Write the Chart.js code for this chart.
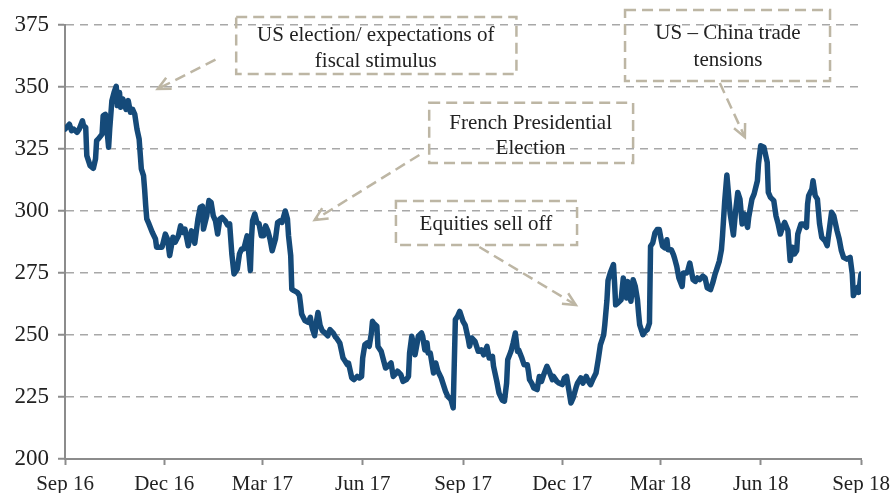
<!DOCTYPE html>
<html>
<head>
<meta charset="utf-8">
<script src="https://cdn.jsdelivr.net/npm/chart.js@4/dist/chart.umd.min.js"></script>
<style>
	html, body { margin: 0; padding: 0; background: #fff; }
	#wrap { width: 893px; height: 493px; }
</style>
</head>
<body>
<div id="wrap"><canvas id="chart" width="893" height="493"></canvas></div>
<script>
// Days since 1 Sep 2016 and index level
var days = [
	0, 4, 6, 8, 11, 13, 16, 17, 19, 20, 23, 26, 28, 29, 31, 34, 35, 37, 39, 40,
	41, 43, 45, 47, 48, 50, 51, 53, 56, 58, 60, 62, 64, 66, 68, 70, 72, 73, 74, 75,
	77, 80, 83, 84, 89, 92, 94, 96, 99, 101, 104, 106, 108, 110, 113, 116, 117, 119, 122, 124,
	126, 127, 130, 132, 134, 136, 138, 140, 142, 144, 147, 149, 151, 153, 155, 158, 160, 162, 164, 167,
	168, 170, 171, 172, 174, 176, 178, 180, 182, 184, 186, 188, 190, 193, 195, 197, 199, 202, 204, 205,
	207, 208, 210, 213, 215, 216, 217, 220, 223, 225, 226, 227, 229, 231, 232, 234, 236, 238, 241, 243,
	246, 248, 249, 252, 255, 257, 259, 260, 263, 265, 268, 270, 272, 273, 275, 277, 279, 281, 282, 283,
	286, 287, 290, 292, 294, 296, 299, 301, 304, 305, 308, 310, 313, 315, 316, 318, 319, 321, 323, 324,
	327, 328, 330, 332, 333, 335, 337, 338, 340, 342, 345, 347, 349, 351, 354, 356, 358, 360, 362, 365,
	367, 370, 371, 373, 376, 379, 381, 382, 384, 387, 389, 392, 393, 396, 398, 401, 403, 405, 406, 409,
	411, 413, 415, 416, 419, 421, 424, 425, 426, 428, 430, 433, 435, 437, 439, 442, 444, 447, 448, 451,
	453, 456, 458, 460, 462, 464, 466, 469, 470, 473, 475, 478, 480, 482, 484, 487, 489, 491, 494, 495,
	497, 498, 500, 503, 504, 505, 507, 510, 512, 514, 515, 516, 519, 521, 523, 525, 526, 527, 530, 532,
	534, 536, 537, 539, 541, 543, 545, 547, 548, 550, 552, 553, 556, 558, 559, 561, 563, 566, 567, 570,
	571, 573, 576, 578, 580, 582, 585, 587, 589, 592, 594, 596, 598, 600, 602, 603, 605, 607, 610, 613,
	615, 617, 619, 621, 623, 626, 627, 630, 632, 635, 636, 638, 641, 644, 645, 647, 650, 652, 654, 656,
	658, 660, 663, 665, 667, 669, 671, 672, 675, 677, 680, 681, 682, 685, 686, 688, 690, 692, 694, 697,
	699, 702, 703, 705, 708, 710, 712, 714, 717, 720, 722, 723, 725, 727, 728, 730
];
var index = [
	333, 335, 332.4, 333, 331.7, 333, 336.4, 334.4, 333.7, 322.3, 318.3, 317.2, 321, 328.4, 329.3, 331, 338.4, 339, 330.4, 325.7,
	333, 344.5, 347.8, 350.3, 342.5, 347.8, 341.8, 345.2, 341, 344.5, 339.8, 341, 339, 333, 329, 317, 314.3, 308.9, 302.2, 296.8,
	294.8, 291.4, 288.7, 285.4, 285.4, 290.7, 288.7, 282, 289.4, 287.4, 290, 294, 291.4, 292.7, 286, 292, 291.4, 287, 297, 301.5,
	302, 292.7, 298, 304.2, 303.5, 298, 296, 290.7, 296.8, 297.4, 296, 294.4, 294.8, 282.7, 274.6, 276.6, 282.7, 284.7, 284.7, 290,
	285.4, 276, 288.7, 296, 298.8, 295.4, 294.8, 290, 290, 294, 292, 288.7, 284, 288.7, 295.4, 296, 295.4, 300, 296.8, 290,
	282, 268.5, 267.9, 267.2, 265.9, 262.5, 258.5, 255.8, 255.1, 257.1, 254.4, 252.4, 249.7, 256.5, 259.1, 253.8, 251.7, 251, 249.7, 252.2,
	250.8, 249.2, 248.8, 246.8, 240.7, 239.4, 238, 238.7, 232.7, 232, 233.3, 232.7, 233.3, 240.7, 246.1, 246.8, 245.4, 250.8, 255.5, 254.8,
	253.5, 245.4, 243.4, 240, 236.7, 237.4, 238.7, 233.3, 234.7, 235.4, 234, 231.3, 232, 233.3, 242.7, 249.5, 247.4, 242, 246.8, 249.5,
	250.8, 249.5, 244, 246.8, 242.7, 242.7, 237.4, 234.7, 238.7, 235.4, 232.7, 230, 227.3, 225.3, 223.9, 220.6, 256.2, 257.5, 259.5, 255.5,
	254, 248, 245.4, 248.8, 247.4, 243.4, 243.4, 244, 242, 245.4, 240.7, 241.4, 237.4, 231.3, 226.6, 223.7, 223.3, 230.6, 240, 243.4,
	246.8, 250.8, 243.4, 244, 240.7, 238, 238, 235.4, 232, 230.6, 228.6, 228, 233.3, 231.3, 234, 237.4, 235.4, 232, 233.3, 231.3,
	230.6, 230, 232.7, 233.3, 228, 222.6, 224.6, 229.3, 230.6, 232.7, 230.6, 233.3, 231.3, 230, 232, 234.7, 240, 246, 250, 254,
	264, 272, 275, 278.4, 271, 262.2, 262.9, 264.2, 273, 268.3, 264.9, 271.6, 263.6, 272.3, 269.6, 264.2, 258.9, 254.2, 250.1, 251.5,
	252.2, 254.8, 285.8, 287.1, 291.1, 292.5, 292.5, 287.8, 285.8, 285.1, 288.4, 284.4, 284.4, 282.4, 281, 277.7, 273, 269.6, 275, 275,
	275.7, 279, 272.3, 271.6, 273, 272.3, 273.7, 273, 269, 268.3, 271, 274.3, 277, 279.7, 284.4, 290, 304, 314.5, 299, 290.3,
	300, 307.5, 304.8, 294.8, 298.8, 293.4, 297.4, 304.8, 306.9, 312.2, 319, 326.3, 325.7, 319.6, 307.5, 305.5, 304.2, 298.1, 294.8, 290.7,
	293.4, 295.4, 292.1, 280, 285.4, 282.7, 284, 290.7, 294.8, 294.8, 293.4, 302.8, 306.2, 308.9, 312.2, 306.2, 304.8, 294.8, 289.4, 288,
	286, 296.1, 299.5, 298.1, 292.1, 288.7, 284, 281.3, 280.6, 281.3, 274.6, 265.9, 267.9, 269.2, 267.2, 274.6
];

var tickDays = [ 0, 91, 181, 273, 365, 456, 546, 638, 730 ];
var tickLabels = [ 'Sep 16', 'Dec 16', 'Mar 17', 'Jun 17', 'Sep 17', 'Dec 17', 'Mar 18', 'Jun 18', 'Sep 18' ];

// Annotation boxes, in data units (day, index level)
var notes = [
	{ lines: [ 'US election/ expectations of', 'fiscal stimulus' ], box: [ 157, 378.2, 414, 355.2 ], text: [ 285, 370.6, 360.2 ], from: [ 138, 361 ], to: [ 85, 349.2 ] },
	{ lines: [ 'French Presidential', 'Election' ], box: [ 334, 343.6, 521, 319.4 ], text: [ 427, 335.3, 325.2 ], from: [ 325, 322.6 ], to: [ 229, 296.4 ] },
	{ lines: [ 'Equities sell off' ], box: [ 303.5, 304, 469.6, 286.3 ], text: [ 386, 294.6 ], from: [ 380, 285.5 ], to: [ 468.5, 262.1 ] },
	{ lines: [ 'US \u2013 China trade', 'tensions' ], box: [ 513.6, 381, 701.6, 352.4 ], text: [ 608, 371.6, 360.7 ], from: [ 600.5, 351.6 ], to: [ 623.5, 329.8 ] }
];

var noteColor = '#bdb6a4';
var textFont = "21px 'Liberation Serif', serif";

Chart.defaults.font.family = "'Liberation Serif', serif";
Chart.defaults.font.size = 21;
Chart.defaults.color = '#222';

var notesPlugin = {
	id: 'notes',
	afterDraw: function ( chart ) {
		var ctx = chart.ctx,
			xs = chart.scales.x,
			ys = chart.scales.y;
		ctx.save();
		ctx.strokeStyle = noteColor;
		ctx.lineWidth = 2.5;
		notes.forEach( function ( n ) {
			var x1 = xs.getPixelForValue( n.box[ 0 ] ),
				y1 = ys.getPixelForValue( n.box[ 1 ] ),
				x2 = xs.getPixelForValue( n.box[ 2 ] ),
				y2 = ys.getPixelForValue( n.box[ 3 ] );
			ctx.setLineDash( [ 11, 6 ] );
			ctx.strokeRect( x1, y1, x2 - x1, y2 - y1 );

			// dashed arrow shaft
			var ax = xs.getPixelForValue( n.from[ 0 ] ),
				ay = ys.getPixelForValue( n.from[ 1 ] ),
				bx = xs.getPixelForValue( n.to[ 0 ] ),
				by = ys.getPixelForValue( n.to[ 1 ] );
			ctx.beginPath();
			ctx.moveTo( ax, ay );
			ctx.lineTo( bx, by );
			ctx.stroke();

			// open arrow head
			var ang = Math.atan2( by - ay, bx - ax ),
				len = 14;
			ctx.setLineDash( [] );
			ctx.beginPath();
			ctx.moveTo( bx - len * Math.cos( ang - 0.45 ), by - len * Math.sin( ang - 0.45 ) );
			ctx.lineTo( bx, by );
			ctx.lineTo( bx - len * Math.cos( ang + 0.45 ), by - len * Math.sin( ang + 0.45 ) );
			ctx.stroke();

			ctx.fillStyle = '#222';
			ctx.font = textFont;
			ctx.textAlign = 'center';
			ctx.textBaseline = 'middle';
			var tx = xs.getPixelForValue( n.text[ 0 ] );
			n.lines.forEach( function ( line, i ) {
				ctx.fillText( line, tx, ys.getPixelForValue( n.text[ i + 1 ] ) );
			} );
		} );
		ctx.restore();
	}
};

var points = days.map( function ( d, i ) {
	return { x: d, y: index[ i ] };
} );

new Chart( document.getElementById( 'chart' ), {
	type: 'line',
	data: {
		datasets: [ {
			data: points,
			borderColor: '#154a79',
			borderWidth: 5.5,
			pointRadius: 0,
			tension: 0,
			borderJoinStyle: 'round',
			borderCapStyle: 'round'
		} ]
	},
	options: {
		responsive: false,
		animation: false,
		events: [],
		layout: { padding: { top: 25, right: 32, left: 0, bottom: 0 } },
		plugins: {
			legend: { display: false },
			tooltip: { enabled: false }
		},
		scales: {
			x: {
				type: 'linear',
				min: 0,
				max: 730,
				afterBuildTicks: function ( scale ) {
					scale.ticks = tickDays.map( function ( v ) {
						return { value: v };
					} );
				},
				afterFit: function ( scale ) {
					scale.height = 34;
					scale.paddingLeft = 0;
					scale.paddingRight = 0;
				},
				ticks: {
					autoSkip: false,
					maxRotation: 0,
					padding: 7,
					callback: function ( value ) {
						var i = tickDays.indexOf( value );
						return i >= 0 ? tickLabels[ i ] : '';
					}
				},
				grid: {
					drawOnChartArea: false,
					drawTicks: true,
					tickLength: 6,
					tickColor: '#8c8c8c',
					tickWidth: 2
				},
				border: { color: '#8c8c8c', width: 2 }
			},
			y: {
				min: 200,
				max: 375,
				afterFit: function ( scale ) {
					scale.width = 65;
					scale.paddingTop = 0;
					scale.paddingBottom = 0;
				},
				ticks: {
					stepSize: 25,
					padding: 9,
					font: { size: 23 }
				},
				grid: {
					color: '#a8a8a8',
					lineWidth: 1.5,
					tickLength: 7,
					tickColor: '#8c8c8c',
					tickWidth: 2,
					tickBorderDash: []
				},
				border: { color: '#8c8c8c', width: 2, dash: [ 8, 6 ] }
			}
		}
	},
	plugins: [ notesPlugin ]
} );
</script>
</body>
</html>
